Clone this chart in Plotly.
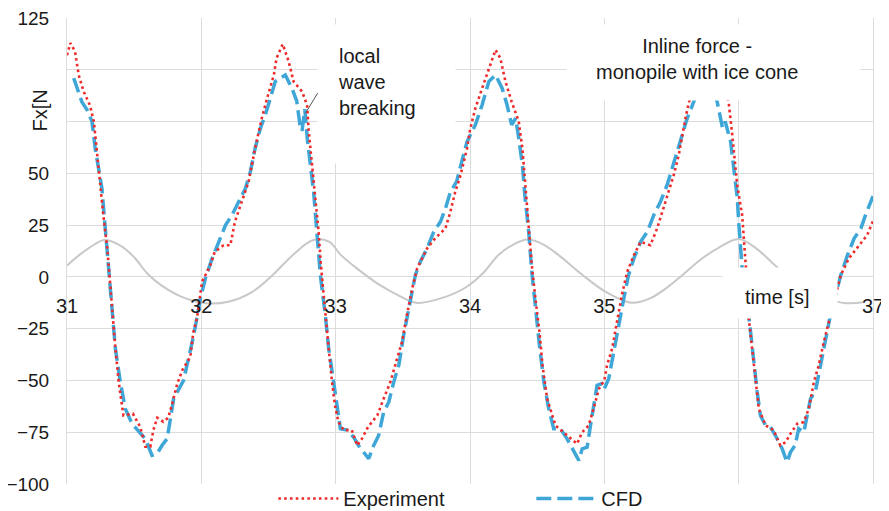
import plotly.graph_objects as go

# ---- data ----
wave_t = [31.0, 31.1, 31.2, 31.28, 31.4, 31.5, 31.6, 31.7, 31.85, 32.03, 32.2, 32.38, 32.53, 32.68, 32.83,
          32.95, 33.04, 33.16, 33.33, 33.47, 33.6, 33.8, 33.97, 34.1, 34.21, 34.32, 34.43, 34.55, 34.66,
          34.84, 35.01, 35.2, 35.34, 35.47, 35.58, 35.72, 35.85, 36.0, 36.13, 36.27, 36.36, 36.5, 36.65,
          36.8, 36.93]
wave_f = [5.5, 11, 15.5, 17.8, 15, 9.5, 1.5, -4, -9.5, -12.7, -12, -7.2, 0.8, 10.5, 17.7,
          17, 10.5, 4, -4, -9, -12.5, -10, -5, 2, 10.5, 15.5, 18, 15.5, 10.5,
          0.8, -7.2, -12.5, -10.4, -5, 0.8, 8.5, 14, 18.3, 13.8, 5.6, 0.5, -6, -10.5,
          -12.7, -12.3]

exp_t = [31.0, 31.025, 31.06, 31.087, 31.124, 31.17, 31.2, 31.22, 31.25, 31.27, 31.30, 31.32, 31.335, 31.36,
         31.385, 31.42, 31.49, 31.546, 31.583, 31.62, 31.643, 31.672, 31.717, 31.754, 31.784, 31.821, 31.859,
         31.918, 31.94, 31.97, 31.993, 32.005, 32.067, 32.1, 32.166, 32.216, 32.25, 32.303, 32.352, 32.40,
         32.45, 32.49, 32.54, 32.56, 32.606, 32.65, 32.687, 32.75, 32.787, 32.8, 32.824, 32.85, 32.873, 32.89,
         32.923, 32.948, 32.973, 32.995, 33.02, 33.06, 33.12, 33.16, 33.197, 33.234, 33.27, 33.31, 33.357,
         33.407, 33.457, 33.494, 33.53, 33.57, 33.606, 33.68, 33.74, 33.817, 33.854, 33.89, 33.93, 33.978,
         34.0, 34.04, 34.09, 34.14, 34.19, 34.226, 34.264, 34.31, 34.363, 34.39, 34.41, 34.437, 34.46,
         34.487, 34.517, 34.54, 34.574, 34.636, 34.698, 34.76, 34.797, 34.835, 34.884, 34.92, 34.96, 35.0,
         35.02, 35.058, 35.095, 35.13, 35.17, 35.22, 35.27, 35.343, 35.393, 35.43, 35.467, 35.517, 35.554,
         35.58, 35.604, 35.628, 35.70, 35.77, 35.85, 35.9, 35.926, 35.95, 35.976, 35.99, 36.026, 36.045,
         36.058, 36.075, 36.1, 36.125, 36.15, 36.2, 36.26, 36.31, 36.35, 36.386, 36.436, 36.485, 36.522,
         36.56, 36.596, 36.634, 36.683, 36.72, 36.76, 36.82, 36.894, 36.957, 37.0]
exp_f = [107, 112.9, 108.8, 97.5, 89.5, 83, 75, 62, 46, 30, 13.7, -2.4, -18.5, -34.5,
         -50.8, -66.9, -66, -72.6, -82, -82, -74, -68, -70, -68, -61, -51.5, -45,
         -38.6, -27, -19, -8, -2.4, 5.6, 12.1, 15.3, 15.3, 26.6, 36.3, 46, 62,
         76.6, 86.3, 97.5, 105.6, 112.4, 104, 94.3, 89.5, 83, 70, 54, 38, 21.8, 5.7,
         -15.3, -34.6, -50.8, -62, -70, -74, -74, -81.4, -78, -73.3, -70, -66.9, -58.8,
         -50.8, -39.5, -31.4, -18.5, -5.6, 4, 13.7, 18.6, 23.4, 31.4, 41, 49.2, 62,
         71, 81.4, 91, 100.8, 109.6, 105.6, 94.3, 84.6, 75, 62, 46, 26.6, 5.7,
         -10.4, -26.6, -42.7, -58.8, -71.7, -75, -78.2, -80.6, -75, -71.7, -63.6, -54, -50,
         -42.7, -34.6, -21.8, -8.9, 2.4, 10.5, 16.9, 15.3, 23.4, 31.4, 39.5, 49.2, 58.8,
         68.5, 76.6, 83.9, 100, 108, 104, 92, 83.9, 70, 54, 44, 29.8, 13.7,
         0.8, -20, -34.6, -50.8, -63.6, -71.7, -74, -81.4, -79.8, -75.7, -70.9, -70.1, -63.6,
         -50.8, -42.7, -31.4, -18.5, -8.9, 0.8, 8.9, 15.3, 20.2, 27]

cfd_t = [31.05, 31.11, 31.15, 31.186, 31.21, 31.235, 31.26, 31.285, 31.31, 31.335, 31.36, 31.397, 31.434,
         31.484, 31.546, 31.583, 31.633, 31.67, 31.707, 31.745, 31.77, 31.794, 31.868, 31.905, 31.943, 31.98,
         31.993, 32.03, 32.08, 32.13, 32.18, 32.228, 32.278, 32.328, 32.365, 32.4, 32.44, 32.476, 32.514,
         32.55, 32.625, 32.675, 32.71, 32.735, 32.75, 32.77, 32.79, 32.81, 32.836, 32.86, 32.886, 32.923,
         32.948, 32.985, 33.01, 33.035, 33.085, 33.134, 33.17, 33.21, 33.246, 33.283, 33.32, 33.357, 33.395,
         33.432, 33.47, 33.506, 33.556, 33.593, 33.63, 33.68, 33.73, 33.78, 33.817, 33.854, 33.9, 33.94,
         33.978, 34.04, 34.09, 34.14, 34.19, 34.24, 34.276, 34.31, 34.34, 34.363, 34.39, 34.41, 34.437,
         34.46, 34.487, 34.517, 34.55, 34.586, 34.623, 34.673, 34.723, 34.772, 34.81, 34.835, 34.872,
         34.897, 34.92, 34.946, 34.98, 35.0, 35.033, 35.07, 35.107, 35.145, 35.18, 35.22, 35.27, 35.32,
         35.368, 35.418, 35.467, 35.505, 35.54, 35.58, 35.617, 35.666, 35.72, 35.78, 35.84, 35.88, 35.9,
         35.94, 35.96, 35.99, 36.0, 36.013, 36.026, 36.075, 36.1, 36.138, 36.162, 36.2, 36.237, 36.274,
         36.324, 36.36, 36.386, 36.42, 36.447, 36.485, 36.51, 36.535, 36.57, 36.61, 36.646, 36.683, 36.72,
         36.76, 36.81, 36.86, 36.91, 36.944, 37.0]
cfd_f = [96, 84.6, 80.6, 75, 62, 52.4, 42.7, 23.4, 4, -15.3, -34.6, -50.8, -63.6,
         -70.9, -75.7, -78.2, -86.2, -85.4, -81.4, -78.2, -68.5, -58.8, -50, -39.5, -28.2, -15.3,
         -10.4, -0.8, 8.9, 16.9, 25, 29.8, 36.3, 42.7, 50.8, 62, 71.8, 78.2, 86.3,
         94.3, 97.5, 91, 85, 73, 70.5, 81, 66, 55, 41, 21.8, 0.8, -18.5,
         -34.6, -50.8, -63.6, -73.3, -74, -77.4, -81.4, -84.6, -87.8, -81.4, -76.6, -65.3, -60.5,
         -50.8, -42.7, -28.2, -12.1, 0.8, 7.3, 13.7, 21.8, 26.6, 33, 41, 46, 55.6,
         65.3, 73.4, 83, 94.3, 97.5, 91, 83, 73.4, 76.6, 67, 54, 38, 21.8,
         2.4, -15.3, -33, -50.8, -63.6, -73.3, -73.3, -78.2, -84.6, -88.6, -83, -82.2,
         -71.7, -62, -52.4, -51.6, -54, -49, -36.3, -21.8, -10.4, 0.8, 8.9, 16.9, 21.8,
         29.8, 36.3, 44.3, 52.4, 58.8, 68.5, 76.6, 84.6, 95, 99, 84.6, 71.8, 75,
         65.3, 54, 38, 26.6, 13.7, 4, -18.5, -34.6, -55.6, -66.9, -71.7, -72.5, -76.6,
         -83, -89.5, -84.6, -81.4, -73.3, -75, -66.9, -58.8, -55.6, -42.7, -29.8, -18.5, -8.9,
         0.8, 10.5, 18.6, 23.4, 29.8, 39]

x_ticks = [31, 32, 33, 34, 35, 36, 37]
x_ticktext = ["31", "32", "33", "34", "35", "", "37"]
y_ticks = [-100, -75, -50, -25, 0, 25, 50, 75, 100, 125]
# the 75 and 100 labels are hidden behind the axis title in the reference
y_ticktext = ["\u2212100", "\u221275", "\u221250", "\u221225", "0", "25", "50", "", "", "125"]

FONT = "Liberation Sans, Arial, Helvetica, sans-serif"
GRID = "#dcdcdc"

fig = go.Figure()
fig.add_trace(go.Scatter(x=wave_t, y=wave_f, mode="lines", line=dict(color="#c8c8c8", width=2, shape="spline"),
                         showlegend=False, hoverinfo="skip"))
fig.add_trace(go.Scatter(x=cfd_t, y=cfd_f, mode="lines", name="CFD", legendrank=2,
                         line=dict(color="#3fa6d8", width=3.5, dash="15px,6px")))
fig.add_trace(go.Scatter(x=exp_t, y=exp_f, mode="lines", name="Experiment", legendrank=1,
                         line=dict(color="#ee2a2a", width=2.6, dash="2.6px,3.2px")))

# page body has an 8px margin, so the figure is shifted by (8, 8)
fig.update_layout(
    width=889, height=511,
    margin=dict(l=59, r=24, t=10, b=35, autoexpand=False),
    paper_bgcolor="white", plot_bgcolor="white",
    font=dict(family=FONT, size=20, color="#1a1a1a"),
    showlegend=True,
    legend=dict(orientation="h", x=0.256, xanchor="left", y=-0.031, yanchor="middle",
                itemwidth=60, entrywidth=183, font=dict(size=20), bgcolor="rgba(0,0,0,0)"),
    xaxis=dict(range=[31, 37], tickvals=x_ticks, ticktext=x_ticktext, showgrid=True, gridcolor=GRID,
               gridwidth=1, zeroline=False, showline=False, anchor="free", position=100 / 225,
               ticks="", ticklabelstandoff=15, tickfont=dict(size=20), automargin=False,
               ticklabeloverflow="allow"),
    yaxis=dict(range=[-100, 125], tickvals=y_ticks, ticktext=y_ticktext, showgrid=True, gridcolor=GRID,
               gridwidth=1, zeroline=False, showline=True, mirror=True, linecolor=GRID, linewidth=1,
               ticks="", ticklabelstandoff=13, tickfont=dict(size=19), automargin=False,
               ticklabeloverflow="allow"),
)

annotations = [
    # white label boxes
    dict(x=33.381, y=88.35, xref="x", yref="y", text=" ", showarrow=False, bgcolor="white",
         width=137, height=138, borderpad=0),
    dict(x=35.816, y=103.6, xref="x", yref="y", text=" ", showarrow=False, bgcolor="white",
         width=293, height=75, borderpad=0),
    dict(x=36.311, y=-7.9, xref="x", yref="y", text=" ", showarrow=False, bgcolor="white",
         width=114, height=50, borderpad=0),
    # texts
    dict(x=33.0, y=94.2, xref="x", yref="y", xanchor="left", yanchor="middle", align="left",
         text="local<br>wave<br>breaking", showarrow=False, font=dict(size=20)),
    dict(x=35.693, y=105, xref="x", yref="y", xanchor="center", yanchor="middle", align="center",
         text="Inline force -<br>monopile with ice cone", showarrow=False, font=dict(size=20)),
    dict(x=36.289, y=-9.8, xref="x", yref="y", xanchor="center", yanchor="middle",
         text="time [s]", showarrow=False, font=dict(size=20)),
    dict(x=32.775, y=79, xref="x", yref="y", ax=32.873, ay=89.5, axref="x", ayref="y", text="",
         showarrow=True, arrowhead=0, arrowwidth=1, arrowcolor="#555555", standoff=0, startstandoff=0),
    dict(x=-0.0331, y=0.802, xref="paper", yref="paper", xanchor="center", yanchor="middle",
         text="Fx[N", textangle=-90, showarrow=False, font=dict(size=20)),
]
fig.update_layout(annotations=annotations)

fig.write_html("out.html")
